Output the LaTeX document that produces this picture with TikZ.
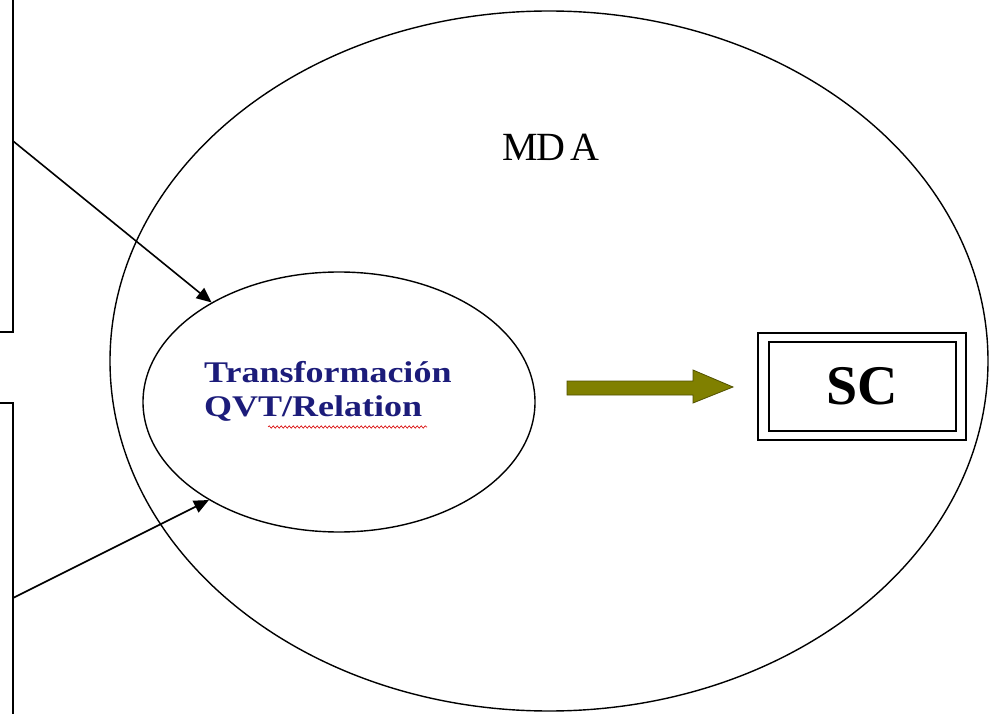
\documentclass[tikz,border=0pt]{standalone}
\usepackage{fontspec}
\setmainfont{Liberation Serif}
\newfontfamily\widebold[FakeStretch=1.2]{Liberation Serif}
\usetikzlibrary{shapes.geometric,arrows.meta,decorations.pathmorphing}
\definecolor{navytext}{RGB}{28,28,122}
\definecolor{olivefill}{RGB}{128,128,0}
\definecolor{oliveedge}{RGB}{80,80,0}
\tikzset{
  outline/.style={draw=black, line width=1.4pt},
  oval/.style={ellipse, outline, inner sep=0pt},
  feed/.style={line width=1.6pt, -{Triangle[length=15pt,width=13pt]}},
  frame/.style={draw=black, line width=1.4pt},
  qvttext/.style={anchor=base west, text=navytext, inner sep=0pt,
        font=\widebold\bfseries\fontsize{30}{30}\selectfont},
}
\begin{document}
\begin{tikzpicture}[x=1pt, y={(0,-1pt)}]
  \useasboundingbox (0,0) rectangle (989,714);
  \fill[white] (0,0) rectangle (989,714);

  % the two input panels cut by the left edge
  \draw[frame] (-5,332) -- (13,332) -- (13,-5);
  \draw[frame] (-5,403) -- (13,403) -- (13,720);
  \coordinate (srcA) at (13,141);
  \coordinate (srcB) at (13,598);

  % MDA domain and the transformation inside it
  \node[oval, minimum width=878pt, minimum height=700pt] (mda) at (549,361) {};
  \node[font=\fontsize{40}{44}\selectfont] (mdalabel) at (551,147) {M\kern-1pt D\kern5pt A};

  \node[oval, minimum width=392pt, minimum height=260pt] (qvt) at (339,402) {};
  \node[qvttext] (t1) at (204,383) {Transformación};
  \node[qvttext] (t2) at (204,417) {QVT/Relation};
  \draw[red!85!black, line width=0.6pt,
        decoration={snake, amplitude=1.2pt, segment length=4pt}, decorate]
    (268,427) -- (427,427);

  % inputs into the transformation
  \draw[feed] (srcA) -- (qvt.142.9);
  \draw[feed] (srcB) -- (qvt.217.1);

  % output arrow
  \draw[fill=olivefill, draw=oliveedge, line width=0.8pt, line join=miter]
    (567,381) -- (693,381) -- (693,370) -- (733,387) -- (693,403)
    -- (693,395) -- (567,395) -- cycle;

  % generated result
  \node[frame, minimum width=208pt, minimum height=107pt] (sc) at (862,386.5) {};
  \node[draw=black, line width=2.4pt, minimum width=187pt, minimum height=89pt,
        font=\bfseries\fontsize{56}{56}\selectfont] (scin) at (862.5,386.5) {SC};
\end{tikzpicture}
\end{document}
